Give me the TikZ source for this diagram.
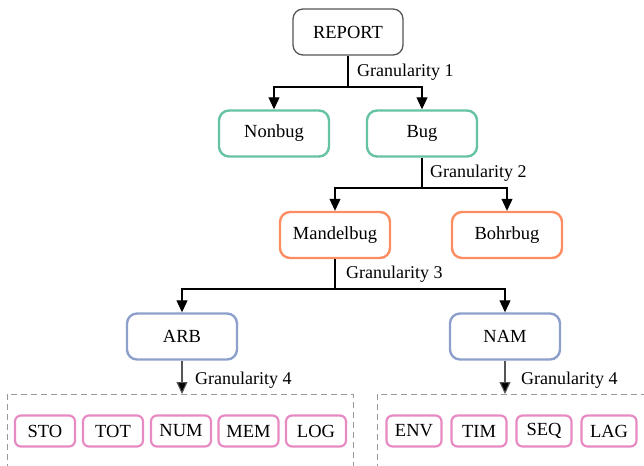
\documentclass[tikz,border=0pt]{standalone}
\usepackage{fontspec}
\setmainfont{Liberation Serif}
\usetikzlibrary{arrows.meta}
\definecolor{cgreen}{HTML}{66C2A5}
\definecolor{corange}{HTML}{FC8D62}
\definecolor{cblue}{HTML}{8DA0CB}
\definecolor{cpink}{HTML}{E78AC3}
\definecolor{cgray}{HTML}{555555}
\tikzset{
  box/.style={draw, rounded corners=10pt, line width=2.4pt, minimum width=110pt, minimum height=46pt, inner sep=0pt, font=\fontsize{18.5}{21}\selectfont},
  topbox/.style={box, draw=cgray, line width=1.3pt},
  greenbox/.style={box, draw=cgreen},
  orangebox/.style={box, draw=corange},
  bluebox/.style={box, draw=cblue},
  leaf/.style={draw=cpink, rounded corners=6pt, line width=2.2pt, minimum height=31pt, inner sep=0pt, font=\fontsize{18.5}{21}\selectfont},
  leafL/.style={leaf, minimum width=60pt},
  leafR/.style={leaf, minimum width=55pt},
  frame/.style={draw=gray!80, line width=0.9pt, dash pattern=on 6pt off 4pt},
  link/.style={line width=1.1pt},
  tip/.style={-{Triangle[length=12pt,width=11pt]}},
  arr/.style={link, tip},
  garr/.style={line width=1.1pt, draw=cgray, -{Triangle[length=12pt,width=11pt,fill=black]}},
  lab/.style={anchor=west, font=\fontsize{18}{21}\selectfont, inner sep=0pt}
}
\begin{document}
\begin{tikzpicture}[x=1pt,y=-1pt]
\useasboundingbox (0,0) rectangle (644,465);

% tree nodes
\node[topbox]    (report) at (348,32)  {REPORT};
\node[greenbox]  (nonbug) at (274,133.5) {Nonbug};
\node[greenbox]  (bug)    at (422,133.5) {Bug};
\node[orangebox] (mandel) at (335,235) {Mandelbug};
\node[orangebox] (bohr)   at (507,235) {Bohrbug};
\node[bluebox]   (arb)    at (182,336.5) {ARB};
\node[bluebox]   (nam)    at (505,336.5) {NAM};

% dashed groups
\draw[frame] (7,470) -- (7,394) -- (353,394) -- (353,470);
\draw[frame] (377,470) -- (377,394) -- (650,394);
\coordinate (flTop) at (182,394);
\coordinate (grTop) at (505,394);

% leaf nodes
\node[leafL] (sto) at (45,431)  {STO};
\node[leafL] (tot) at (113,431) {TOT};
\node[leafL] (num) at (181,431) {NUM};
\node[leafL] (mem) at (248.5,431) {MEM};
\node[leafL] (log) at (316,431) {LOG};
\node[leafR] (env) at (414,431) {ENV};
\node[leafR] (tim) at (479,431) {TIM};
\node[leafR] (seq) at (544,431) {SEQ};
\node[leafR] (lag) at (609,431) {LAG};

% granularity 1
\coordinate (j1) at (348,87);
\draw[link] (report.south) -- (j1);
\draw[arr] (j1) -| (nonbug.north);
\draw[arr] (j1) -| (bug.north);
\node[lab] (g1) at (357,72) {Granularity 1};

% granularity 2
\coordinate (j2) at (422,188);
\draw[link] (bug.south) -- (j2);
\draw[arr] (j2) -| (mandel.north);
\draw[arr] (j2) -| (bohr.north);
\node[lab] (g2) at (430,173) {Granularity 2};

% granularity 3
\coordinate (j3) at (335,289);
\draw[link] (mandel.south) -- (j3);
\draw[arr] (j3) -| (arb.north);
\draw[arr] (j3) -| (nam.north);
\node[lab] (g3) at (346,274) {Granularity 3};

% granularity 4
\draw[garr] (arb.south) -- (flTop);
\node[lab] (g4a) at (195,380) {Granularity 4};
\draw[garr] (nam.south) -- (grTop);
\node[lab] (g4b) at (521,380) {Granularity 4};
\end{tikzpicture}
\end{document}
